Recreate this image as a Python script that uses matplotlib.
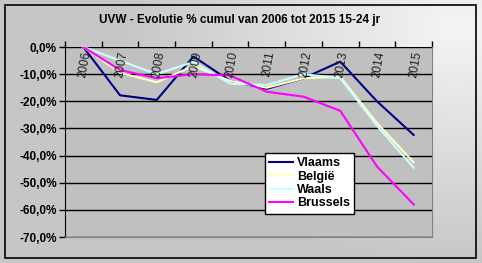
import numpy as np
import matplotlib
matplotlib.use('Agg')
import matplotlib.pyplot as plt
from matplotlib.patches import Rectangle

years = ['2006', '2007', '2008', '2009', '2010', '2011', '2012', '2013', '2014', '2015']
vlaams = [0.0, -17.8, -19.5, -3.5, -12.5, -15.4, -11.5, -5.4, -20.0, -32.4]
belgie = [0.0, -9.5, -13.0, -7.0, -12.5, -15.0, -11.5, -11.0, -28.0, -42.5]
waals = [0.0, -5.0, -10.0, -5.5, -13.5, -14.0, -10.0, -11.5, -29.0, -44.5]
brussels = [0.0, -8.5, -11.5, -10.0, -10.5, -16.5, -18.3, -23.5, -44.0, -58.0]
yticks = [0, -10, -20, -30, -40, -50, -60, -70]

plt.rcParams['font.family'] = ['Liberation Sans', 'DejaVu Sans']

fig = plt.figure(figsize=(4.82, 2.63), dpi=100)

# background gradient + outer frame
bg = fig.add_axes([0, 0, 1, 1], zorder=-10)
xx, yy = np.meshgrid(np.linspace(0, 1, 200), np.linspace(0, 1, 120))
d = np.sqrt(((xx - 0.95) / 0.7) ** 2 + ((yy - 0.9) / 0.9) ** 2)
v = 0.78 + 0.18 * np.clip(1 - d, 0, 1)
bg.imshow(np.dstack([v, v, v]), extent=[0, 1, 0, 1], origin='lower', aspect='auto')
bg.add_patch(Rectangle((5 / 482, 1 - 258 / 263), 471 / 482, 253 / 263,
                       fill=False, edgecolor='black', lw=1.2))
bg.set_xlim(0, 1)
bg.set_ylim(0, 1)
bg.axis('off')

ax = fig.add_axes([65 / 482, 1 - 237 / 263, 367 / 482, 190 / 263])
ax.set_facecolor('#C0C0C0')
x = np.arange(len(years))
ax.plot(x, vlaams, color='#000080', lw=1.5, label='Vlaams')
ax.plot(x, belgie, color='#FFFFC0', lw=1.5, label='België')
ax.plot(x, waals, color='#C8FFFF', lw=1.5, label='Waals')
ax.plot(x, brussels, color='#FF00FF', lw=1.5, label='Brussels')

ax.set_xlim(-0.5, len(years) - 0.5)
ax.set_ylim(-70, 0)
ax.set_yticks(yticks)
ax.set_yticklabels([('%.1f%%' % t).replace('.', ',') for t in yticks], fontweight='bold', fontsize=8.5)
ax.grid(axis='y', color='black', lw=1)
ax.set_axisbelow(True)
ax.tick_params(axis='y', length=4, width=1, pad=2)

# category ticks on top at boundaries, labels just under the 0 line
ax.set_xticks(np.arange(-0.5, len(years), 1))
ax.set_xticklabels([])
ax.tick_params(axis='x', top=True, bottom=False, direction='out', length=4, width=1)
ax.xaxis.set_ticks_position('top')
for i, yr in enumerate(years):
    ax.text(i + 0.05, -1.2, yr, rotation=80, ha='center', va='top', fontsize=8.5, color='#202020')

ax.spines['top'].set_visible(False)
ax.spines['left'].set_color('black')
ax.spines['right'].set_color('#808080')
ax.spines['bottom'].set_color('#808080')

leg = ax.legend(loc='upper left', bbox_to_anchor=(200 / 367, 1 - 106 / 190),
                prop={'weight': 'bold', 'size': 9}, frameon=True, fancybox=False,
                handlelength=1.9, handletextpad=0.3, labelspacing=0.1, borderpad=0.35,
                borderaxespad=0)
leg.get_frame().set_edgecolor('black')
leg.get_frame().set_facecolor('white')
leg.get_frame().set_alpha(1)

fig.text(240 / 482, 1 - 20 / 263, 'UVW - Evolutie % cumul van 2006 tot 2015 15-24 jr',
         ha='center', va='center', fontsize=8.5, fontweight='bold')

fig.savefig('out.png', dpi=100)
